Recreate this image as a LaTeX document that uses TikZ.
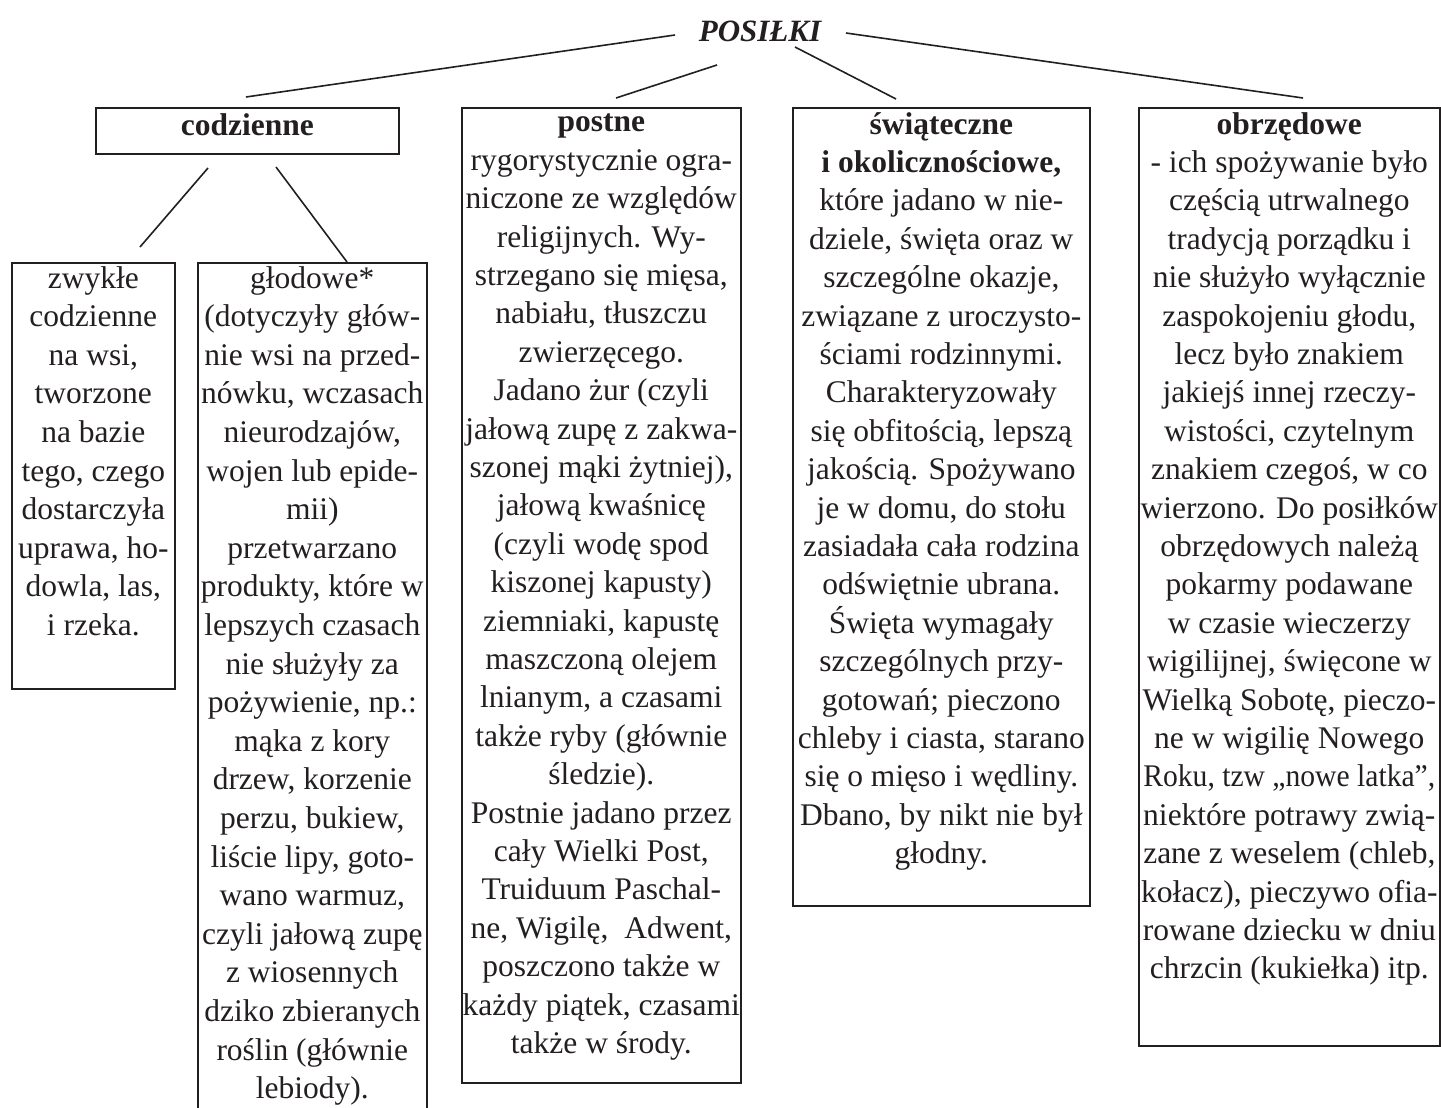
\documentclass[tikz,border=0pt]{standalone}
\usepackage{fontspec}
\setmainfont{Liberation Serif}
\usetikzlibrary{positioning}
\definecolor{ink}{RGB}{35,31,32}
\tikzset{
  box/.style={draw=ink, line width=1.6pt, inner sep=0pt, anchor=north west},
  txt/.style={align=center, inner sep=0pt, text=ink, font=\fontsize{31.5}{#1}\selectfont},
  txt/.default=38.4,
  link/.style={draw=ink, line width=1.6pt},
}

\begin{document}
\begin{tikzpicture}[x=1pt,y=-1pt]
\useasboundingbox (0,0) rectangle (1441,1108);

% title
\node[txt, font=\fontsize{31}{36}\selectfont\bfseries\itshape] (posilki) at (760,31) {POSIŁKI};

% boxes
\node[box, minimum width=303pt, minimum height=46pt] (codz) at (95,107) {};
\node[box, minimum width=279pt, minimum height=975pt] (postne) at (461,107) {};
\node[box, minimum width=297pt, minimum height=798pt] (swiat) at (792,107) {};
\node[box, minimum width=301pt, minimum height=938pt] (obrz) at (1138,107) {};
\node[box, minimum width=163pt, minimum height=426pt] (zwykle) at (11,262) {};
\node[box, minimum width=229pt, minimum height=870pt] (glod) at (197,262) {};

% texts
\node[txt, below=6pt of codz.north] (codzt) {\bfseries codzienne};

\node[txt, below=7pt of postne.north] (postnet) {\textbf{postne}\\
rygorystycznie ogra-\\ niczone ze względów\\ religijnych. Wy-\\
strzegano się mięsa,\\ nabiału, tłuszczu\\ zwierzęcego.\\
Jadano żur (czyli\\ jałową zupę z zakwa-\\ szonej mąki żytniej),\\
jałową kwaśnicę\\ (czyli wodę spod\\ kiszonej kapusty)\\
ziemniaki, kapustę\\ maszczoną olejem\\ lnianym, a czasami\\
także ryby (głównie\\ śledzie).\\ Postnie jadano przez\\
cały Wielki Post,\\ Truiduum Paschal-\\ ne, Wigilę, \ Adwent,\\
poszczono także w\\ każdy piątek, czasami\\ także w środy.};

\node[txt, below=5pt of swiat.north] (swiatt) {\textbf{świąteczne}\\
\textbf{i okolicznościowe,}\\ które jadano w nie-\\ dziele, święta oraz w\\
szczególne okazje,\\ związane z uroczysto-\\ ściami rodzinnymi.\\
Charakteryzowały\\ się obfitością, lepszą\\ jakością. Spożywano\\
je w domu, do stołu\\ zasiadała cała rodzina\\ odświętnie ubrana.\\
Święta wymagały\\ szczególnych przy-\\ gotowań; pieczono\\
chleby i ciasta, starano\\ się o mięso i wędliny.\\
Dbano, by nikt nie był\\ głodny.};

\node[txt, below=5pt of obrz.north] (obrzt) {\textbf{obrzędowe}\\
- ich spożywanie było\\ częścią utrwalnego\\ tradycją porządku i\\
nie służyło wyłącznie\\ zaspokojeniu głodu,\\ lecz było znakiem\\
jakiejś innej rzeczy-\\ wistości, czytelnym\\ znakiem czegoś, w co\\
wierzono. Do posiłków\\ obrzędowych należą\\ pokarmy podawane\\
w czasie wieczerzy\\ wigilijnej, święcone w\\ Wielką Sobotę, pieczo-\\
ne w wigilię Nowego\\ \scalebox{0.94}[1]{Roku, tzw „nowe latka”,}\\ niektóre potrawy zwią-\\
zane z weselem (chleb,\\ kołacz), pieczywo ofia-\\ rowane dziecku w dniu\\
chrzcin (kukiełka) itp.};

\node[txt=38.6, below=4pt of zwykle.north] (zwyklet) {zwykłe\\ codzienne\\
na wsi,\\ tworzone\\ na bazie\\ tego, czego\\ dostarczyła\\ uprawa, ho-\\
dowla, las,\\ i rzeka.};

\node[txt=38.6, below=4pt of glod.north] (glodt) {głodowe*\\
(dotyczyły głów-\\ nie wsi na przed-\\ nówku, wczasach\\ nieurodzajów,\\
wojen lub epide-\\ mii)\\ przetwarzano\\ produkty, które w\\
lepszych czasach\\ nie służyły za\\ pożywienie, np.:\\ mąka z kory\\
drzew, korzenie\\ perzu, bukiew,\\ liście lipy, goto-\\ wano warmuz,\\
czyli jałową zupę\\ z wiosennych\\ dziko zbieranych\\ roślin (głównie\\
lebiody).};

% connectors
\coordinate (a1) at (675,35);  \coordinate (b1) at (246,97);
\coordinate (a2) at (717,65);  \coordinate (b2) at (616,98);
\coordinate (a3) at (795,47);  \coordinate (b3) at (896,99);
\coordinate (a4) at (846,33);  \coordinate (b4) at (1303,98);
\coordinate (c1) at (208,168); \coordinate (d1) at (140,247);
\coordinate (c2) at (276,167); \coordinate (d2) at (347,262);
\draw[link] (a1) -- (b1);
\draw[link] (a2) -- (b2);
\draw[link] (a3) -- (b3);
\draw[link] (a4) -- (b4);
\draw[link] (c1) -- (d1);
\draw[link] (c2) -- (d2);

\end{tikzpicture}
\end{document}
